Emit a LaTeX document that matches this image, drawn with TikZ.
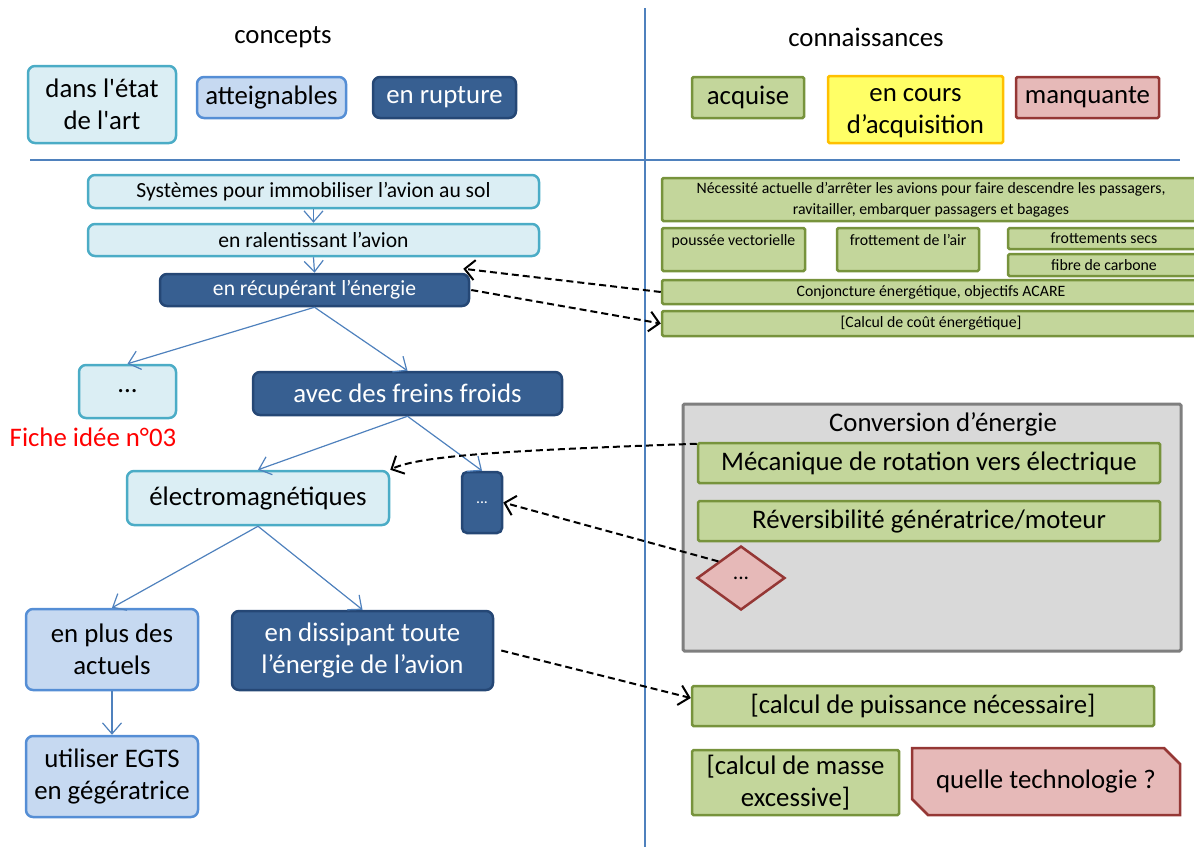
\documentclass[tikz,border=0pt]{standalone}
\usepackage{fontspec}
\setmainfont{Carlito}
\usetikzlibrary{shapes.geometric, shapes.misc, arrows.meta}

\definecolor{aqualine}{HTML}{4BACC6}
\definecolor{aquafill}{HTML}{DBEEF4}
\definecolor{bleuline}{HTML}{558ED5}
\definecolor{bleufill}{HTML}{C6D9F1}
\definecolor{ruptline}{HTML}{254775}
\definecolor{ruptfill}{HTML}{375F91}
\definecolor{vertline}{HTML}{77933C}
\definecolor{vertfill}{HTML}{C3D69B}
\definecolor{jauneline}{HTML}{FFC000}
\definecolor{jaunefill}{HTML}{FFFF66}
\definecolor{rougeline}{HTML}{953735}
\definecolor{rougefill}{HTML}{E6B9B8}
\definecolor{grisline}{HTML}{7F7F7F}
\definecolor{grisfill}{HTML}{D9D9D9}
\definecolor{traitbleu}{HTML}{4F81BD}

\tikzset{
  box/.style={draw, line width=2.5pt, rounded corners=7pt, inner sep=0pt, align=center},
  sz/.style 2 args={minimum width=#1pt, minimum height=#2pt},
  big/.style={font=\fontsize{26.8}{32}\selectfont},
  mid/.style={font=\fontsize{21.6}{24}\selectfont},
  small/.style={font=\fontsize{15.8}{21}\selectfont},
  etat/.style={box, draw=aqualine, fill=aquafill},
  atteint/.style={box, draw=bleuline, fill=bleufill},
  rupture/.style={box, draw=ruptline, fill=ruptfill, text=white},
  acquis/.style={box, rounded corners=1.5pt, draw=vertline, fill=vertfill},
  encours/.style={box, rounded corners=1.5pt, draw=jauneline, fill=jaunefill},
  manque/.style={box, rounded corners=1.5pt, draw=rougeline, fill=rougefill},
  fleche/.style={draw=traitbleu, line width=1.2pt,
    -{Straight Barb[length=11pt, width=19pt, line width=1.2pt]}},
  pointille/.style={draw=black, line width=2pt, dash pattern=on 7pt off 4pt,
    -{Straight Barb[length=10pt, width=20pt, line width=2pt]}},
}

\begin{document}
\begin{tikzpicture}[x=1pt, y=-1pt]
  \useasboundingbox (0,0) rectangle (1194,847);
  \clip (0,0) rectangle (1194,847);

  % separations
  \draw[traitbleu, line width=1.5pt] (645,8) -- (645,847);
  \draw[traitbleu, line width=1.5pt] (30,160) -- (1180,160);

  % legende
  \node[big] (tconcepts) at (283,37) {concepts};
  \node[big] (tconnais) at (866,37) {connaissances};
  \node[etat, big, sz={148}{77}] (legetat) at (102,104.5) {dans l\textquotesingle état\\de l\textquotesingle art};
  \node[atteint, big, sz={149}{41}] (legatteint) at (271.5,97.5) {atteignables};
  \node[rupture, big, sz={143}{41}] (legrupt) at (444.5,97.5) {en rupture};
  \node[acquis, big, sz={112}{41}] (legacquis) at (748,97.5) {acquise};
  \node[encours, big, sz={175}{67}, text height=57pt, text depth=10pt] (legencours) at (915.5,109.5) {en cours\\d’acquisition};
  \node[manque, big, sz={143}{41}] (legmanque) at (1087.5,97.5) {manquante};

  % arbre des concepts
  \node[etat, mid, sz={451}{33}] (sys) at (313.5,191.5) {Systèmes pour immobiliser l’avion au sol};
  \node[etat, mid, sz={451}{32}] (ralent) at (313.5,240) {en ralentissant l’avion};
  \node[rupture, mid, sz={309}{32}] (recup) at (314.5,290) {en récupérant l’énergie};
  \node[etat, big, sz={97}{53}] (dotsa) at (127.5,391.5) {...};
  \node[big, text=red] (fiche) at (93,437) {Fiche idée n°03};
  \node[rupture, big, sz={309}{43}] (freins) at (407.5,393.5) {avec des freins froids};
  \node[etat, big, sz={262}{54}] (electro) at (258,498) {électromagnétiques};
  \node[rupture, small, rounded corners=5pt, sz={40}{61}] (dotsb) at (482,502.5) {...};
  \node[atteint, big, sz={172}{81}] (plus) at (112,649.5) {en plus des\\actuels};
  \node[rupture, big, sz={261}{79}] (dissip) at (362.5,650.5) {en dissipant toute\\l’énergie de l’avion};
  \node[atteint, big, sz={172}{81}] (egts) at (112,776.5) {utiliser EGTS\\en gégératrice};

  \draw[fleche] (sys.south) -- (ralent.north);
  \draw[fleche] (ralent.south) -- (recup.north);
  \draw[fleche] (recup.south) -- (dotsa.north);
  \draw[fleche] (recup.south) -- (freins.north);
  \draw[fleche] (freins.south) -- (electro.north);
  \draw[fleche] (freins.south) -- (dotsb.north);
  \draw[fleche] (electro.south) -- (plus.north);
  \draw[fleche] (electro.south) -- (dissip.north);
  \draw[fleche] (plus.south) -- (egts.north);

  % connaissances
  \node[acquis, small, sz={538}{43}] (necess) at (931,199.5)
    {Nécessité actuelle d’arrêter les avions pour faire descendre les passagers,\\ravitailler, embarquer passagers et bagages};
  \node[acquis, small, sz={143}{43}, text height=17pt, text depth=26pt] (poussee) at (733.5,249.5) {poussée vectorielle};
  \node[acquis, small, sz={142}{43}, text height=17pt, text depth=26pt] (frottair) at (908,249.5) {frottement de l’air};
  \node[acquis, small, sz={192}{21}] (frottsecs) at (1104,238.5) {frottements secs};
  \node[acquis, small, sz={192}{22}] (fibre) at (1104,265) {fibre de carbone};
  \node[acquis, small, sz={538}{24}] (conj) at (931,292) {Conjoncture énergétique, objectifs ACARE};
  \node[acquis, small, sz={538}{25}] (calcout) at (931,323.5) {[Calcul de coût énergétique]};

  \node[draw=grisline, fill=grisfill, line width=3pt, rounded corners=1.5pt, sz={498}{247}] (conv) at (932,527.5) {};
  \node[big] (convtitre) at (943,424) {Conversion d’énergie};
  \node[acquis, big, sz={462}{40}] (meca) at (929,463) {Mécanique de rotation vers électrique};
  \node[acquis, big, sz={462}{40}] (revers) at (929,521) {Réversibilité génératrice/moteur};
  \node[diamond, draw=rougeline, fill=rougefill, line width=2.5pt, inner sep=0pt,
    sz={88}{64}, mid] (losange) at (741,578) {...};

  \node[acquis, big, sz={462}{40}] (puiss) at (923,706) {[calcul de puissance nécessaire]};
  \node[acquis, big, sz={207}{65}] (masse) at (795.5,782.5) {[calcul de masse\\excessive]};
  \node[chamfered rectangle, chamfered rectangle corners={north east, south west},
    chamfered rectangle xsep=8pt, chamfered rectangle ysep=8pt,
    draw=rougeline, fill=rougefill, line width=2.5pt, inner sep=0pt,
    sz={268}{67}, big] (techno) at (1046,781.5) {quelle technologie ?};

  % liens
  \draw[pointille] (conj.west) -- ([xshift=-7pt, yshift=4pt]recup.north east);
  \draw[pointille] ([xshift=1pt]recup.east) -- (calcout.west);
  \draw[pointille] ([yshift=-2pt]meca.north west) .. controls (520,450) and (420,455) .. (electro.north east);
  \draw[pointille] (losange.north west) -- (dotsb.east);
  \draw[pointille] ([xshift=7pt]dissip.east) -- ([yshift=8pt]puiss.west);
\end{tikzpicture}
\end{document}
